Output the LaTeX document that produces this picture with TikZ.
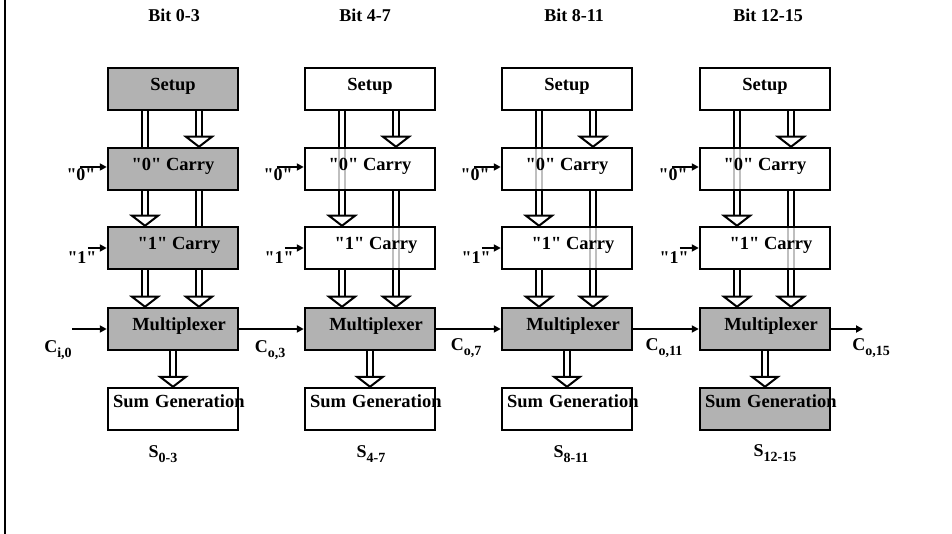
\documentclass[tikz,border=0pt]{standalone}
\usepackage{fontspec}
\setmainfont{Liberation Serif}[Ligatures=TeXOff]
\usepackage{tikz}
\usetikzlibrary{arrows.meta, backgrounds}

% fat hollow arrow: from anchor, to anchor, x offset
\newcommand{\fatarrow}[3]{%
  \begin{scope}[on background layer]
    \draw[fatshaft] ([xshift=#3pt]#1) -- ([shift={(#3pt,10pt)}]#2);
  \end{scope}
  \draw[fathead] ([shift={(#3pt-13pt,10pt)}]#2) -- ([xshift=#3pt]#2) -- ([shift={(#3pt+13pt,10pt)}]#2) -- cycle;}
% subscript as in the slide
\newcommand{\lowsub}[1]{\raisebox{-5pt}{\fontsize{14}{14}\selectfont #1}}

\begin{document}
\begin{tikzpicture}[x=1pt, y=-1pt,
    box/.style = {rectangle, draw, line width=2.5pt, fill=white, fill opacity=.75, text opacity=1, minimum width=130pt, minimum height=42pt, inner sep=3pt, text height=19.5pt, text depth=16.5pt, font=\bfseries\fontsize{18.5}{20}\selectfont},
    shaded/.style = {box, fill=gray!60, fill opacity=1},
    sumbox/.style = {inner xsep=5pt, text width=120pt, align=left, text height=16.5pt, text depth=19.5pt},
    lbl/.style = {font=\bfseries\fontsize{18}{20}\selectfont, inner sep=0pt},
    sig/.style = {line width=2pt, -{Triangle[length=7pt,width=7pt]}},
    fatshaft/.style = {line width=2pt, double=white, double distance=4pt},
    fathead/.style = {draw, fill=white, line width=2pt, line join=miter}
]
\useasboundingbox (0,0) rectangle (952,534);

% frame edge
\draw[line width=2.5pt] (5,0) -- (5,534);

% Column headers
\node (bit1) [lbl] at (174,15) {Bit 0-3};
\node (bit2) [lbl] at (365,15) {Bit 4-7};
\node (bit3) [lbl] at (574,15) {Bit 8-11};
\node (bit4) [lbl] at (768,15) {Bit 12-15};

% Bit 0-3
\node (setup1) [shaded] at (173,89) {Setup};
\node (zero1) [shaded] at (173,169) {"0" Carry};
\node (one1) [shaded] at (173,248) {\hspace*{12pt}"1" Carry};
\node (mux1) [shaded] at (173,329) {\hspace*{12pt}Multiplexer};
\node (sum1) [box, sumbox] at (173,409) {\mbox{Sum Generation}};

% Bit 4-7
\node (setup2) [box] at (370,89) {Setup};
\node (zero2) [box] at (370,169) {"0" Carry};
\node (one2) [box] at (370,248) {\hspace*{12pt}"1" Carry};
\node (mux2) [shaded] at (370,329) {\hspace*{12pt}Multiplexer};
\node (sum2) [box, sumbox] at (370,409) {\mbox{Sum Generation}};

% Bit 8-11
\node (setup3) [box] at (567,89) {Setup};
\node (zero3) [box] at (567,169) {"0" Carry};
\node (one3) [box] at (567,248) {\hspace*{12pt}"1" Carry};
\node (mux3) [shaded] at (567,329) {\hspace*{12pt}Multiplexer};
\node (sum3) [box, sumbox] at (567,409) {\mbox{Sum Generation}};

% Bit 12-15
\node (setup4) [box] at (765,89) {Setup};
\node (zero4) [box] at (765,169) {"0" Carry};
\node (one4) [box] at (765,248) {\hspace*{12pt}"1" Carry};
\node (mux4) [shaded] at (765,329) {\hspace*{12pt}Multiplexer};
\node (sum4) [shaded, sumbox] at (765,409) {\mbox{Sum Generation}};

% Fat arrows inside each column
\fatarrow{setup1.south}{zero1.north}{26}
\fatarrow{setup1.south}{one1.north}{-28}
\fatarrow{zero1.south}{mux1.north}{26}
\fatarrow{one1.south}{mux1.north}{-28}
\fatarrow{mux1.south}{sum1.north}{0}

\fatarrow{setup2.south}{zero2.north}{26}
\fatarrow{setup2.south}{one2.north}{-28}
\fatarrow{zero2.south}{mux2.north}{26}
\fatarrow{one2.south}{mux2.north}{-28}
\fatarrow{mux2.south}{sum2.north}{0}

\fatarrow{setup3.south}{zero3.north}{26}
\fatarrow{setup3.south}{one3.north}{-28}
\fatarrow{zero3.south}{mux3.north}{26}
\fatarrow{one3.south}{mux3.north}{-28}
\fatarrow{mux3.south}{sum3.north}{0}

\fatarrow{setup4.south}{zero4.north}{26}
\fatarrow{setup4.south}{one4.north}{-28}
\fatarrow{zero4.south}{mux4.north}{26}
\fatarrow{one4.south}{mux4.north}{-28}
\fatarrow{mux4.south}{sum4.north}{0}

% Constant carry inputs
\node (in01) [lbl] at (81,175) {"0"};
\node (in11) [lbl] at (82,258) {"1"};
\node (in02) [lbl] at (278,175) {"0"};
\node (in12) [lbl] at (279,258) {"1"};
\node (in03) [lbl] at (475,175) {"0"};
\node (in13) [lbl] at (476,258) {"1"};
\node (in04) [lbl] at (673,175) {"0"};
\node (in14) [lbl] at (674,258) {"1"};
\draw[sig] ([xshift=-27pt,yshift=2pt]zero1.west) -- ([yshift=2pt]zero1.west);
\draw[sig] ([xshift=-19pt]one1.west) -- (one1.west);
\draw[sig] ([xshift=-27pt,yshift=2pt]zero2.west) -- ([yshift=2pt]zero2.west);
\draw[sig] ([xshift=-19pt]one2.west) -- (one2.west);
\draw[sig] ([xshift=-27pt,yshift=2pt]zero3.west) -- ([yshift=2pt]zero3.west);
\draw[sig] ([xshift=-19pt]one3.west) -- (one3.west);
\draw[sig] ([xshift=-27pt,yshift=2pt]zero4.west) -- ([yshift=2pt]zero4.west);
\draw[sig] ([xshift=-19pt]one4.west) -- (one4.west);

% Carry chain
\coordinate (cin) at (72,329);
\coordinate (cout) at (863,329);
\draw[sig] (cin) -- (mux1.west);
\draw[sig] (mux1.east) -- (mux2.west);
\draw[sig] (mux2.east) -- (mux3.west);
\draw[sig] (mux3.east) -- (mux4.west);
\draw[sig] (mux4.east) -- (cout);

\node (ci0) [lbl] at (58,350) {C\lowsub{i,0}};
\node (co3) [lbl] at (270,350) {C\lowsub{o,3}};
\node (co7) [lbl] at (466,348) {C\lowsub{o,7}};
\node (co11) [lbl] at (664,348) {C\lowsub{o,11}};
\node (co15) [lbl] at (871,348) {C\lowsub{o,15}};

% Sum outputs
\node (s1) [lbl] at (163,454) {S\lowsub{0-3}};
\node (s2) [lbl] at (371,454) {S\lowsub{4-7}};
\node (s3) [lbl] at (571,454) {S\lowsub{8-11}};
\node (s4) [lbl] at (775,453) {S\lowsub{12-15}};

\end{tikzpicture}
\end{document}
